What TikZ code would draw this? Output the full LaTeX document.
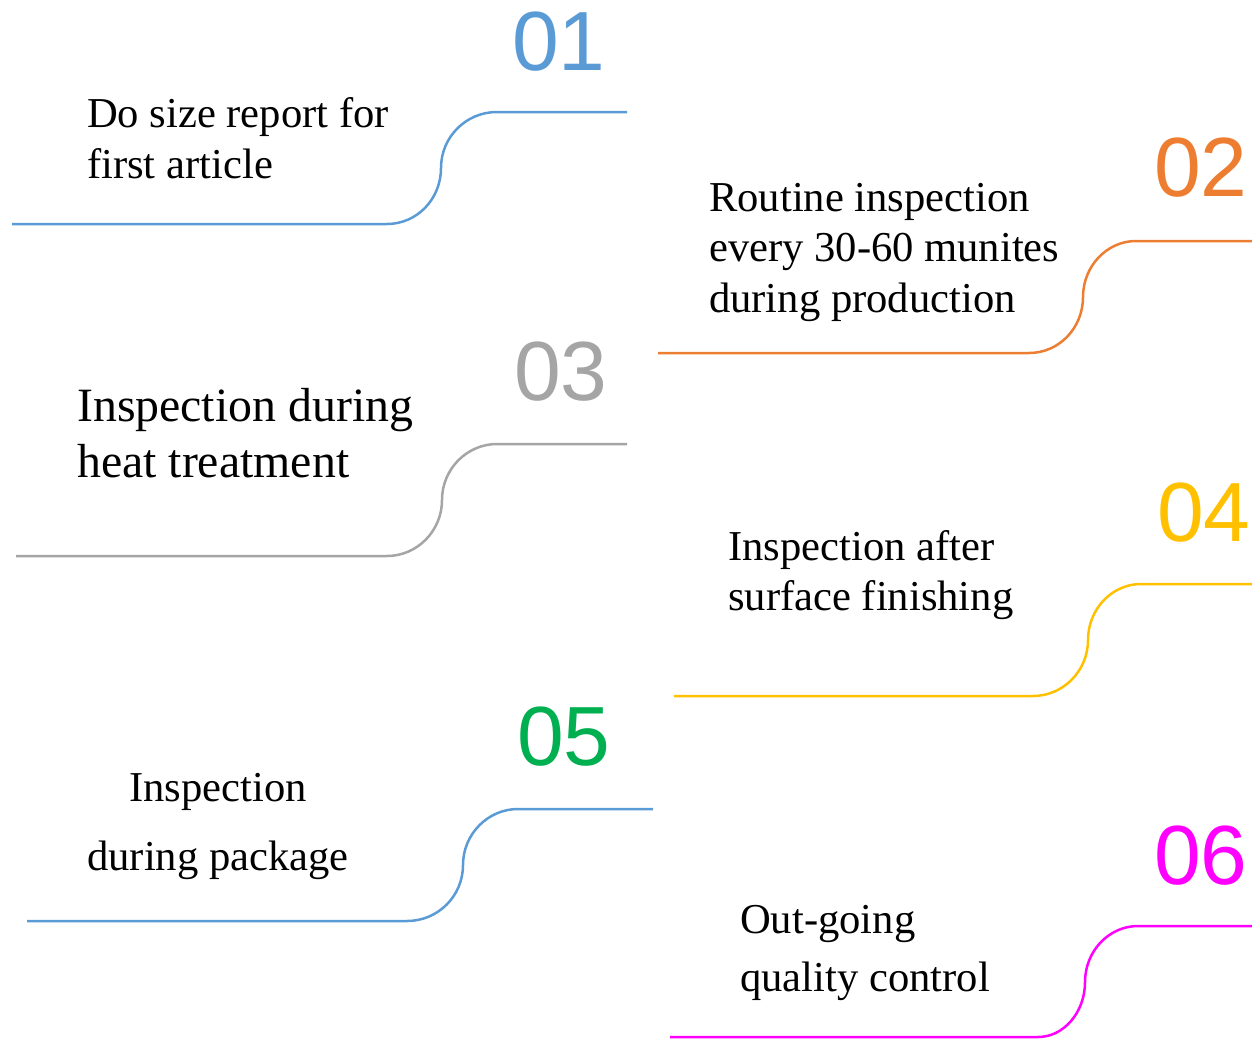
\documentclass[tikz,border=0pt]{standalone}
\usepackage{fontspec}
\setmainfont{Liberation Serif}
\newfontfamily\numfont{Liberation Sans}
\definecolor{cblue}{HTML}{5B9BD5}
\definecolor{corange}{HTML}{ED7D31}
\definecolor{cgray}{HTML}{A5A5A5}
\definecolor{cyellow}{HTML}{FFC000}
\definecolor{cgreen}{HTML}{00B050}
\definecolor{cmagenta}{HTML}{FF00FF}
\tikzset{
  txt/.style={inner sep=0pt, anchor=base west, font=\fontsize{42.6}{50}\selectfont, text=black},
  bigtxt/.style={txt, font=\fontsize{47.8}{57}\selectfont},
  num/.style={inner sep=0pt, anchor=base west, font=\numfont\fontsize{84}{90}\selectfont},
  wave/.style={line width=2.5pt, line cap=butt}
}
\begin{document}
\begin{tikzpicture}[x=1pt,y=-1pt]
\useasboundingbox (0,0) rectangle (1252,1039);

% numbers
\node[num, text=cblue]    (n1) at (512,70)   {01};
\node[num, text=corange]  (n2) at (1154,196) {02};
\node[num, text=cgray]    (n3) at (514,400)  {03};
\node[num, text=cyellow]  (n4) at (1157,541) {04};
\node[num, text=cgreen]   (n5) at (517,765)  {05};
\node[num, text=cmagenta] (n6) at (1154,884) {06};

% texts
\node[txt] (t1a) at (87,127) {Do size report for};
\node[txt] (t1b) at (87,178) {first article};
\node[txt] (t2a) at (709,211) {Routine inspection};
\node[txt] (t2b) at (709,261) {every 30-60 munites};
\node[txt] (t2c) at (709,312) {during production};
\node[bigtxt] (t3a) at (77,421) {Inspection during};
\node[bigtxt] (t3b) at (77,477) {heat treatment};
\node[txt] (t4a) at (728,560) {Inspection after};
\node[txt] (t4b) at (728,610) {surface finishing};
\node[txt, anchor=base] (t5a) at (218,801) {Inspection};
\node[txt, anchor=base] (t5b) at (218,870) {during package};
\node[txt] (t6a) at (740,933) {Out-going};
\node[txt] (t6b) at (740,991) {quality control};

% S-shaped lines
\coordinate (a1) at (12,224);  \coordinate (b1) at (387,224);
\coordinate (m1) at (441,168); \coordinate (c1) at (497,112); \coordinate (d1) at (627,112);
\draw[wave, cblue] (a1) -- (b1) .. controls +(30,0) and +(0,31) .. (m1)
  .. controls +(0,-31) and +(-31,0) .. (c1) -- (d1);

\coordinate (a2) at (658,353);  \coordinate (b2) at (1029,353);
\coordinate (m2) at (1083,297); \coordinate (c2) at (1136,241); \coordinate (d2) at (1252,241);
\draw[wave, corange] (a2) -- (b2) .. controls +(30,0) and +(0,31) .. (m2)
  .. controls +(0,-31) and +(-29,0) .. (c2) -- (d2);

\coordinate (a3) at (16,556);  \coordinate (b3) at (387,556);
\coordinate (m3) at (442,500); \coordinate (c3) at (497,444); \coordinate (d3) at (627,444);
\draw[wave, cgray] (a3) -- (b3) .. controls +(30,0) and +(0,31) .. (m3)
  .. controls +(0,-31) and +(-30,0) .. (c3) -- (d3);

\coordinate (a4) at (674,696);  \coordinate (b4) at (1033,696);
\coordinate (m4) at (1088,640); \coordinate (c4) at (1141,584); \coordinate (d4) at (1252,584);
\draw[wave, cyellow] (a4) -- (b4) .. controls +(30,0) and +(0,31) .. (m4)
  .. controls +(0,-31) and +(-29,0) .. (c4) -- (d4);

\coordinate (a5) at (27,921);  \coordinate (b5) at (407,921);
\coordinate (m5) at (463,865); \coordinate (c5) at (518,809); \coordinate (d5) at (653,809);
\draw[wave, cblue] (a5) -- (b5) .. controls +(31,0) and +(0,31) .. (m5)
  .. controls +(0,-31) and +(-30,0) .. (c5) -- (d5);

\coordinate (a6) at (670,1037);  \coordinate (b6) at (1038,1037);
\coordinate (m6) at (1085,982); \coordinate (c6) at (1138,926); \coordinate (d6) at (1252,926);
\draw[wave, cmagenta] (a6) -- (b6) .. controls +(26,0) and +(0,30) .. (m6)
  .. controls +(0,-31) and +(-29,0) .. (c6) -- (d6);
\end{tikzpicture}
\end{document}
